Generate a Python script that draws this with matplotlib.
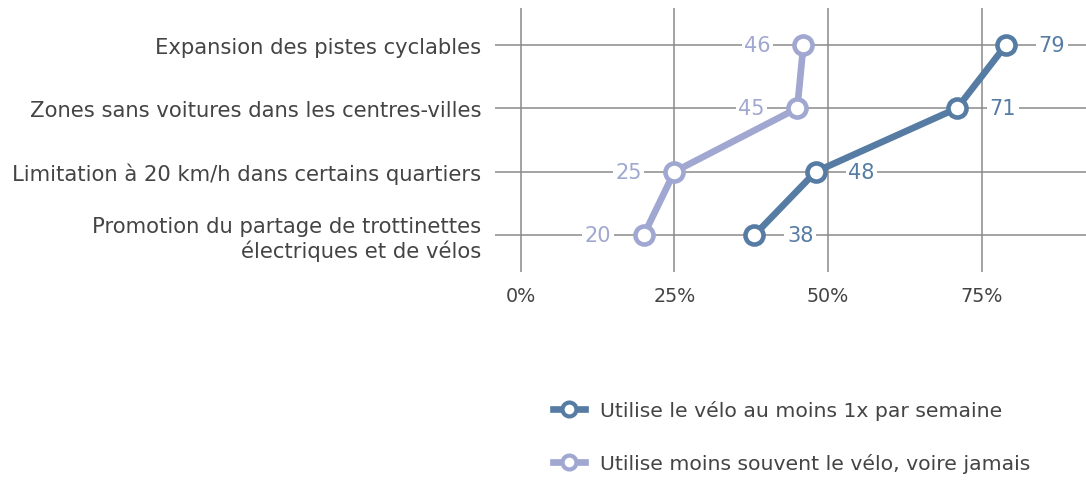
import matplotlib
matplotlib.use("Agg")
import matplotlib.pyplot as plt
from matplotlib.lines import Line2D

plt.rcParams['font.family'] = ['DejaVu Sans']

categories = [
    "Expansion des pistes cyclables",
    "Zones sans voitures dans les centres-villes",
    "Limitation à 20 km/h dans certains quartiers",
    "Promotion du partage de trottinettes\nélectriques et de vélos",
]
weekly = [79, 71, 48, 38]
rarely = [46, 45, 25, 20]
series_names = ["Utilise le vélo au moins 1x par semaine",
                "Utilise moins souvent le vélo, voire jamais"]
xticks = [0, 25, 50, 75]
xticklabels = ["0%", "25%", "50%", "75%"]

dark = "#567ca4"
light = "#a0a7d1"
grid_c = "#8a8a8a"
text_c = "#444444"

fig = plt.figure(figsize=(10.86, 4.81), dpi=100)
ax = fig.add_axes([495 / 1086, 1 - 273 / 481, 1 - 495 / 1086, (273 - 9) / 481])

ypos = list(range(len(categories)))

for vals, col, side in [(rarely, light, -1), (weekly, dark, 1)]:
    ax.plot(vals, ypos, color=col, lw=4.8, marker="o", ms=13,
            mfc="white", mec=col, mew=3.3, zorder=3, solid_capstyle="round")
    for v, y in zip(vals, ypos):
        ax.annotate(str(v), (v, y), xytext=(side * 33, 0), textcoords="offset points",
                    ha="center", va="center", fontsize=15, color=col, zorder=2.5,
                    bbox=dict(boxstyle="square,pad=0.12", fc="white", ec="none"))

ax.set_xlim(-4.2, 92)
ax.set_ylim(3.58, -0.58)
ax.set_yticks(ypos)
ax.set_yticklabels(categories, fontsize=15.2, color=text_c, ha="right")
ax.set_xticks(xticks)
ax.set_xticklabels(xticklabels, fontsize=13.8, color=text_c)
ax.tick_params(axis="both", length=0)
ax.tick_params(axis="y", pad=10)
ax.tick_params(axis="x", pad=10)
ax.grid(True, color=grid_c, lw=1.1)
ax.set_axisbelow(True)
for s in ax.spines.values():
    s.set_visible(False)
for lbl in ax.get_yticklabels():
    lbl.set_linespacing(1.15)

handles = [Line2D([], [], color=c, lw=4.8, marker="o", ms=10, mfc="white", mec=c, mew=3)
           for c in (dark, light)]
fig.legend(handles, series_names, loc="center left", bbox_to_anchor=(0.492, 0.09),
           frameon=False, fontsize=14.7, labelcolor=text_c, handlelength=1.6,
           handletextpad=0.7, labelspacing=1.62)

fig.savefig("out.png", dpi=100)
